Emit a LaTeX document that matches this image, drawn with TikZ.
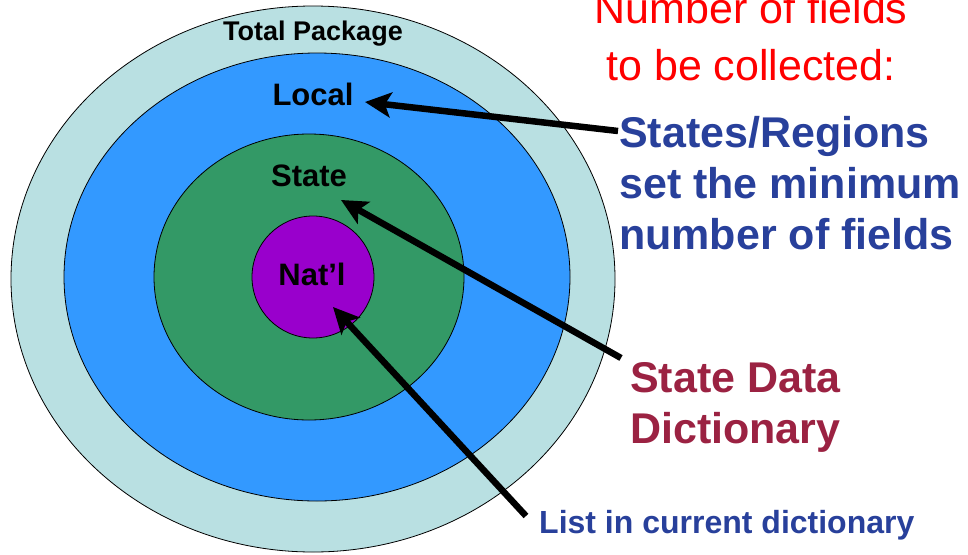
\documentclass[tikz,border=0pt]{standalone}
\usepackage{fontspec}
\setmainfont{Liberation Sans}
\usetikzlibrary{arrows.meta,positioning}
\definecolor{ringpale}{RGB}{185,224,226}
\definecolor{ringblue}{RGB}{51,153,255}
\definecolor{ringgreen}{RGB}{51,153,102}
\definecolor{ringpurple}{RGB}{153,0,204}
\definecolor{notered}{RGB}{255,0,0}
\definecolor{noteblue}{RGB}{40,64,155}
\definecolor{notewine}{RGB}{155,34,66}
\tikzstyle{pointer} = [line width=6.5pt,-{Stealth[length=26pt,width=25pt,inset=6pt]}]

\begin{document}
\begin{tikzpicture}[x=1pt,y=-1pt,
    ring/.style={draw, line width=0.8pt},
    ringlabel/.style={font=\bfseries\fontsize{31}{31}\selectfont, inner sep=0pt, anchor=base},
    note/.style={inner sep=0pt, align=left, anchor=base west}]
  \useasboundingbox (0,0) rectangle (968,554);

  % Rings, outside in
  \draw[ring, fill=ringpale] (313,279) ellipse [x radius=302, y radius=273];
  \draw[ring, fill=ringblue] (317,277) ellipse [x radius=253, y radius=224];
  \draw[ring, fill=ringgreen] (309,277) ellipse [x radius=155, y radius=143];
  \draw[ring, fill=ringpurple] (313,277) ellipse [x radius=61, y radius=61];

  % Ring labels
  \node[ringlabel, font=\bfseries\fontsize{27}{27}\selectfont] (total) at (313,40) {Total Package};
  \node[ringlabel] (local) at (313,105) {Local};
  \node[ringlabel] (state) at (309,186) {State};
  \node[ringlabel] (natl) at (312,285) {Nat’l};

  % Notes on the right (base = last line)
  \node[note, align=center, anchor=base, text=notered, font=\fontsize{43}{57}\selectfont] (fields) at (751,80) {Number of fields\\to be collected:};
  \node[note, text=noteblue, font=\bfseries\fontsize{43}{51}\selectfont] (regions) at (619,249) {States/Regions\\set the minimum\\number of fields};
  \node[note, text=notewine, font=\bfseries\fontsize{43}{51}\selectfont] (dictionary) at (630,443) {State Data\\Dictionary};
  \node[note, text=noteblue, font=\bfseries\fontsize{32}{32}\selectfont] (current) at (539,533) {List in current dictionary};

  % Pointers
  \coordinate (regionsfoot) at (618,131);
  \coordinate (dictionaryfoot) at (621,358);
  \coordinate (currentfoot) at (526,516);
  \coordinate (localtip) at (365,102);
  \coordinate (statetip) at (341,200);
  \coordinate (natltip) at (333,307);
  \draw[pointer] (regionsfoot) -- (localtip);
  \draw[pointer] (dictionaryfoot) -- (statetip);
  \draw[pointer] (currentfoot) -- (natltip);
\end{tikzpicture}
\end{document}
